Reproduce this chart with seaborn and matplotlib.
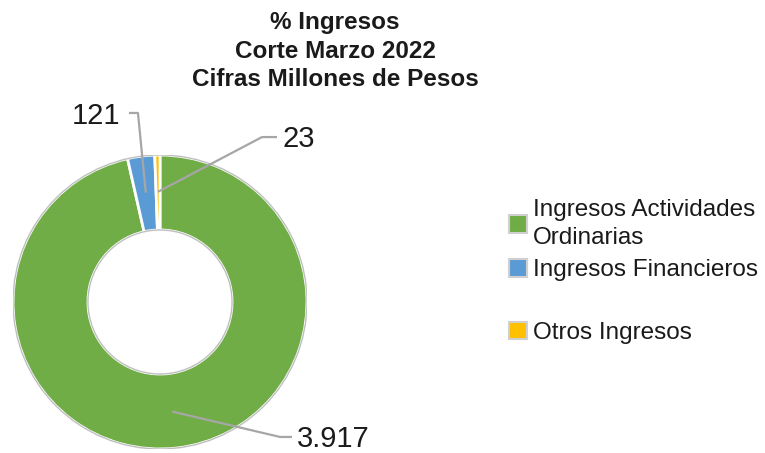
import numpy as np
import seaborn as sns
import matplotlib.pyplot as plt
from matplotlib.patches import Rectangle, Circle

categories = ["Ingresos Actividades\nOrdinarias", "Ingresos Financieros", "Otros Ingresos"]
values = [3917, 121, 23]
value_labels = ["3.917", "121", "23"]
colors = ["#70AD47", "#5B9BD5", "#FFC000"]

sns.set_theme(style="white")
plt.rcParams['font.family'] = ['Liberation Sans', 'DejaVu Sans']

fig = plt.figure(figsize=(7.65, 4.53), dpi=100)
# axes spans exactly the donut's bounding box
ax = fig.add_axes([13 / 765, 4 / 453, 294 / 765, 294 / 453])

wedges, _ = ax.pie(values, colors=colors, startangle=90, counterclock=False, radius=1,
                   wedgeprops=dict(width=0.51, edgecolor="white", linewidth=2))
ax.add_patch(Circle((0, 0), 1.0, fill=False, edgecolor="#BFBFBF", linewidth=1))
ax.add_patch(Circle((0, 0), 0.49, fill=False, edgecolor="#BFBFBF", linewidth=1))
ax.set_xlim(-1, 1)
ax.set_ylim(-1, 1)
ax.set_aspect("equal")
ax.axis("off")

# leader elbow, end and text positions per label (layout only)
elbows = [(0.816, -0.918), (-0.15, 1.286), (0.694, 1.122)]
ends = [(0.898, -0.918), (-0.211, 1.286), (0.796, 1.122)]
text_pos = [(0.93, -0.935), (-0.27, 1.265), (0.83, 1.11)]
aligns = ["left", "right", "left"]

for w, lab, el, en, tp, ha in zip(wedges, value_labels, elbows, ends, text_pos, aligns):
    mid = np.deg2rad((w.theta1 + w.theta2) / 2)
    p = (0.75 * np.cos(mid), 0.75 * np.sin(mid))
    ax.plot([p[0], el[0], en[0]], [p[1], el[1], en[1]], color="#A6A6A6",
            linewidth=1.6, clip_on=False, solid_capstyle="butt")
    ax.text(tp[0], tp[1], lab, ha=ha, va="center", fontsize=21, color="#1a1a1a")

fig.text(0.438, 0.975, "% Ingresos\nCorte Marzo 2022\nCifras Millones de Pesos",
         ha="center", va="top", fontsize=17.5, fontweight="bold", linespacing=1.3,
         color="#1a1a1a")

handles = [Rectangle((0, 0), 1, 1, facecolor=c, edgecolor="#D0D0D0", linewidth=1.5)
           for c in colors]
blank = Rectangle((0, 0), 1, 1, alpha=0)
leg = fig.legend(handles[:2] + [blank] + handles[2:], categories[:2] + [" "] + categories[2:],
                 loc="upper left", bbox_to_anchor=(0.666, 0.561), frameon=False,
                 fontsize=17.5, handlelength=0.72, handleheight=0.72, handletextpad=0.25,
                 labelspacing=0.42, borderpad=0, borderaxespad=0)
for t in leg.get_texts():
    t.set_color("#1a1a1a")
    t.set_linespacing(1.36)
leg.get_texts()[2].set_fontsize(11)

fig.savefig("out.png", dpi=100)
